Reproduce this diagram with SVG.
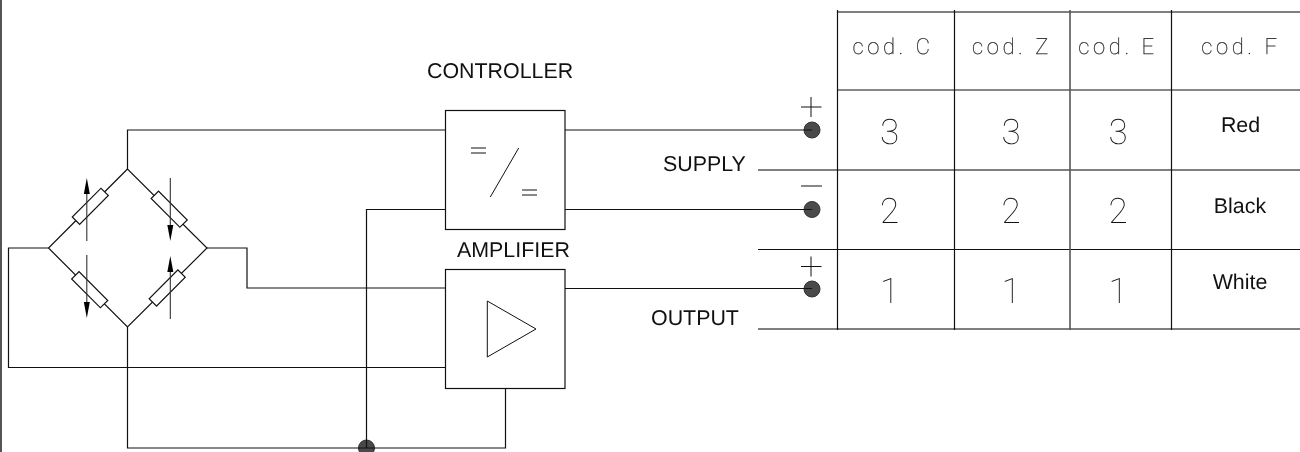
<svg xmlns="http://www.w3.org/2000/svg" width="1300" height="452" viewBox="0 0 1300 452">
<style>
text{text-rendering:geometricPrecision}
.w{fill:none;stroke:#111;stroke-width:1.2}
.g{fill:none;stroke:#555;stroke-width:1.6}
.t{font-family:"Liberation Sans",Arial,sans-serif;font-size:21.4px;fill:#111}
.c{font-family:Roboto,"Liberation Sans",sans-serif;font-size:22px;font-weight:100;fill:#111;stroke:#333;stroke-width:.25;text-anchor:middle;letter-spacing:3.6px}
.n{font-family:Roboto,"Liberation Sans",sans-serif;font-size:35px;font-weight:100;fill:#111;text-anchor:middle}
.d{fill:#4a4a4a;stroke:#333;stroke-width:1}
.r{fill:#fff;stroke:#111;stroke-width:1.2}
.a{fill:#000}
</style>
<defs><filter id="gray" x="0" y="0" width="1" height="1" filterUnits="objectBoundingBox"><feOffset dx="0" dy="0"/></filter></defs>
<rect width="1300" height="452" fill="#fff"/>
<g id="terminals-dots">
<circle class="d" cx="812" cy="130" r="8"/><circle class="d" cx="812" cy="209.500" r="8"/><circle class="d" cx="812" cy="289" r="8"/>
</g>
<g id="junction"><circle class="d" cx="366.500" cy="448" r="8"/></g>
<g id="connectors">
<path class="g" d="M1 0V452" style="stroke-width:2"/>
<path class="w" d="M127.500 169V130H445.500"/>
<path class="w" d="M445.500 209.500H366.500V448"/>
<path class="w" d="M207 248H247V288H445.500"/>
<path class="w" d="M48.500 248H8.500V367.500H445.500"/>
<path class="w" d="M127.500 327V448H505.500V388"/>
<path class="w" d="M565 130H812"/>
<path class="w" d="M565 209.500H812"/>
<path class="w" d="M565 288.500H812"/>
</g>
<g id="bridge">
<path class="w" d="M127.500 169L48.500 248L127.500 327L207 248Z"/>
<g transform="translate(90.300,206.300) rotate(-45)"><rect class="r" x="-20.300" y="-5.200" width="40.600" height="10.400"/></g>
<g transform="translate(169.200,209.200) rotate(45)"><rect class="r" x="-20.300" y="-5.200" width="40.600" height="10.400"/></g>
<g transform="translate(89.700,289.700) rotate(45)"><rect class="r" x="-20.300" y="-5.200" width="40.600" height="10.400"/></g>
<g transform="translate(167.200,288) rotate(-45)"><rect class="r" x="-20.300" y="-5.200" width="40.600" height="10.400"/></g>
<path fill="none" stroke="#333" stroke-width="1.1" d="M86.800 241V190M170.300 178V230M86.800 255V306M170.300 319V268"/>
<path class="a" d="M86.800 178L89.800 194H83.800Z"/>
<path class="a" d="M170.300 241L167.300 225H173.300Z"/>
<path class="a" d="M86.800 318L83.800 302H89.800Z"/>
<path class="a" d="M170.300 256L173.300 272H167.300Z"/>
</g>
<g id="controller">
<rect class="w" x="445.500" y="110.500" width="119.500" height="119"/>
<path class="w" d="M471 148H486M471 153H486M522 190H537M522 195H537M490.300 197L518.700 148" style="stroke-width:1"/>
<text class="t" x="427" y="78" filter="url(#gray)">CONTROLLER</text>
</g>
<g id="amplifier">
<rect class="w" x="445.500" y="269.500" width="119.500" height="119"/>
<path class="w" d="M487.300 301V357L536 329Z" style="stroke-width:1"/>
<text class="t" x="457" y="257" filter="url(#gray)">AMPLIFIER</text>
</g>
<g id="table">
<path class="g" d="M837 12H1300M758 170H1300M758 329H1300"/>
<path class="w" d="M837 90H1300M758 249.500H1300M837.500 10V330M954.500 10V330M1171.500 10V330"/>
<path class="g" d="M1070 10V330"/>
<g filter="url(#gray)">
<text class="c" x="893" y="54">cod. C</text>
<text class="c" x="1012" y="54">cod. Z</text>
<text class="c" x="1118" y="54">cod. E</text>
<text class="c" x="1241" y="54">cod. F</text>
<text class="n" x="889.500" y="144">3</text><text class="n" x="1011" y="144">3</text><text class="n" x="1118" y="144">3</text>
<text class="n" x="889.500" y="223">2</text><text class="n" x="1011" y="223">2</text><text class="n" x="1118" y="223">2</text>
<text class="n" x="889.500" y="303">1</text><text class="n" x="1011" y="303">1</text><text class="n" x="1118" y="303">1</text>
<text class="t" x="1240.500" y="132" text-anchor="middle">Red</text>
<text class="t" x="1240" y="212.500" text-anchor="middle">Black</text>
<text class="t" x="1240" y="289" text-anchor="middle">White</text>
</g>
</g>
<g id="terminal-marks">
<path class="w" d="M801 107H821.500M811 97V117M801 186H822M801 266.500H821.500M811 256.500V276.500" style="stroke-width:1"/>
<text class="t" x="663" y="171" filter="url(#gray)">SUPPLY</text>
<text class="t" x="651" y="325" filter="url(#gray)">OUTPUT</text>
</g>
</svg>
